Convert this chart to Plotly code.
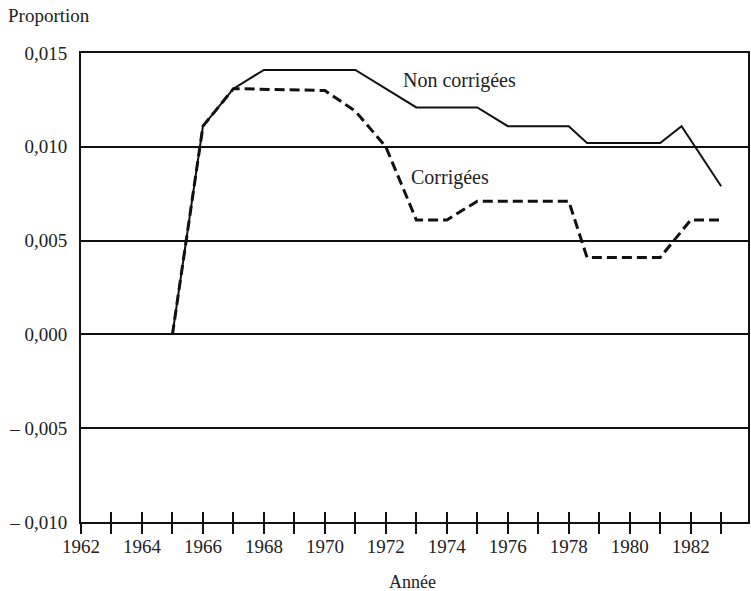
import plotly.graph_objects as go

# Data
years_nc = [1965, 1966, 1967, 1968, 1971, 1973, 1975, 1976, 1978, 1978.6, 1981, 1981.7, 1983]
vals_nc = [0.0, 0.0111, 0.0131, 0.0141, 0.0141, 0.0121, 0.0121, 0.0111, 0.0111, 0.0102, 0.0102, 0.0111, 0.0079]

years_c = [1965, 1966, 1967, 1970, 1971, 1972, 1973, 1974, 1975, 1978, 1978.6, 1981, 1982, 1983]
vals_c = [0.0, 0.0111, 0.0131, 0.0130, 0.0119, 0.0100, 0.0061, 0.0061, 0.0071, 0.0071, 0.0041, 0.0041, 0.0061, 0.0061]

tick_years = list(range(1962, 1984))
tick_labels = [str(y) if y % 2 == 0 else "" for y in tick_years]
y_ticks = [-0.010, -0.005, 0.0, 0.005, 0.010, 0.015]
y_labels = ["– 0,010", "– 0,005", "0,000", "0,005", "0,010", "0,015"]

FONT = "Liberation Serif"
TXT = "#222222"
XR = [1962, 1983.88]

fig = go.Figure()
fig.add_trace(go.Scatter(x=years_nc, y=vals_nc, mode="lines",
                         line=dict(color="#111111", width=2), showlegend=False, hoverinfo="skip"))
fig.add_trace(go.Scatter(x=years_c, y=vals_c, mode="lines", xaxis="x2",
                         line=dict(color="#111111", width=3, dash="10px,5px"), showlegend=False, hoverinfo="skip"))

fig.add_annotation(x=1974.4, y=0.01356, text="Non corrigées", showarrow=False,
                   font=dict(family=FONT, size=20, color=TXT))
fig.add_annotation(x=1974.1, y=0.00834, text="Corrigées", showarrow=False,
                   font=dict(family=FONT, size=20, color=TXT))
fig.add_annotation(xref="paper", yref="paper", x=(6 - 81) / 669, y=1 + (53 - 16) / 469,
                   xanchor="left", yanchor="middle", text="Proportion", showarrow=False,
                   font=dict(family=FONT, size=19, color=TXT))
fig.add_annotation(xref="paper", yref="paper", x=(413 - 81) / 669, y=-(582 - 522) / 469,
                   xanchor="center", yanchor="middle", text="Année", showarrow=False,
                   font=dict(family=FONT, size=18, color=TXT))

fig.update_layout(
    width=751, height=591,
    margin=dict(l=81, r=1, t=53, b=69),
    paper_bgcolor="white", plot_bgcolor="white",
    xaxis=dict(range=XR, tickmode="array", tickvals=tick_years, ticktext=tick_labels,
               ticks="outside", ticklen=10, tickwidth=2, tickcolor="#111111",
               showline=True, linewidth=2, linecolor="#111111", mirror=True,
               showgrid=False, zeroline=False, ticklabelstandoff=-4,
               tickfont=dict(family=FONT, size=19, color=TXT)),
    xaxis2=dict(range=XR, overlaying="x", anchor="y", side="bottom",
                tickmode="array", tickvals=tick_years, showticklabels=False,
                ticks="inside", ticklen=10, tickwidth=2, tickcolor="#111111",
                showline=False, showgrid=False, zeroline=False),
    yaxis=dict(range=[-0.010, 0.015], tickmode="array", tickvals=y_ticks, ticktext=y_labels,
               showgrid=True, gridcolor="#111111", gridwidth=2,
               showline=True, linewidth=2, linecolor="#111111", mirror=True,
               zeroline=False, ticks="", ticklabelstandoff=8,
               tickfont=dict(family=FONT, size=19, color=TXT)),
)

fig.write_html("out.html")
